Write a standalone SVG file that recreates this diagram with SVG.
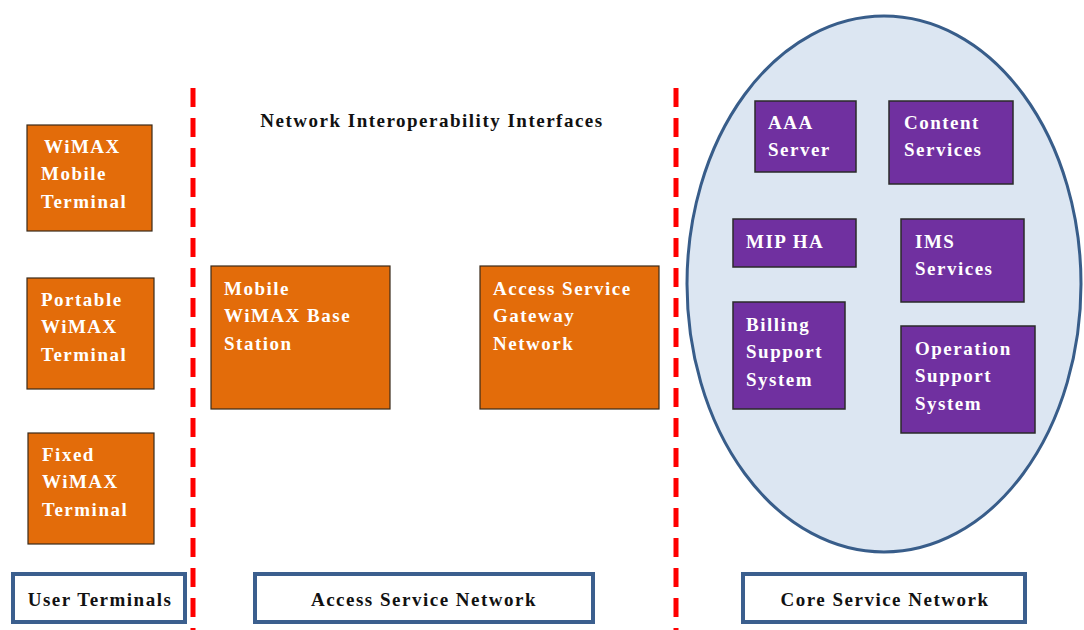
<svg xmlns="http://www.w3.org/2000/svg" width="1084" height="630" viewBox="0 0 1084 630">
<style>
.org{fill:#e36c0a;stroke:#3a2a1a;stroke-width:1.2}
.pur{fill:#7030a0;stroke:#2a2a2a;stroke-width:1.5}
.lbl{fill:#fff;stroke:#3b5f8e;stroke-width:4}
.wt{font-family:"Liberation Serif",serif;font-weight:bold;font-size:19px;letter-spacing:1.5px;fill:#fff}
.bt{font-family:"Liberation Serif",serif;font-weight:bold;font-size:19px;letter-spacing:1.5px;fill:#111}
.dash{stroke:#ff0000;stroke-width:5;stroke-dasharray:19 11;fill:none}
</style>
<rect width="1084" height="630" fill="#fff"/>
<g id="dividers">
<line class="dash" x1="193" y1="88" x2="193" y2="630"/>
<line class="dash" x1="676" y1="88" x2="676" y2="630"/>
</g>
<g id="core-ellipse">
<ellipse cx="884" cy="284" rx="197" ry="268" fill="#dce6f2" stroke="#385d8a" stroke-width="3"/>
</g>
<g id="title">
<text class="bt" x="432" y="127" text-anchor="middle">Network Interoperability Interfaces</text>
</g>
<g id="n-mobile-terminal">
<rect class="org" x="27" y="125" width="125" height="106"/>
<text class="wt" x="44" y="153">WiMAX</text>
<text class="wt" x="41" y="180">Mobile</text>
<text class="wt" x="41" y="208">Terminal</text>
</g>
<g id="n-portable-terminal">
<rect class="org" x="27" y="278" width="127" height="111"/>
<text class="wt" x="41" y="306">Portable</text>
<text class="wt" x="41" y="333">WiMAX</text>
<text class="wt" x="41" y="361">Terminal</text>
</g>
<g id="n-fixed-terminal">
<rect class="org" x="28" y="433" width="126" height="111"/>
<text class="wt" x="42" y="461">Fixed</text>
<text class="wt" x="42" y="488">WiMAX</text>
<text class="wt" x="42" y="516">Terminal</text>
</g>
<g id="n-base-station">
<rect class="org" x="211" y="266" width="179" height="143"/>
<text class="wt" x="224" y="295">Mobile</text>
<text class="wt" x="224" y="322">WiMAX  Base</text>
<text class="wt" x="224" y="350">Station</text>
</g>
<g id="n-asn-gateway">
<rect class="org" x="480" y="266" width="179" height="143"/>
<text class="wt" x="493" y="295">Access Service</text>
<text class="wt" x="493" y="322">Gateway</text>
<text class="wt" x="493" y="350">Network</text>
</g>
<g id="n-aaa">
<rect class="pur" x="755" y="101" width="101" height="71"/>
<text class="wt" x="768" y="129">AAA</text>
<text class="wt" x="768" y="156">Server</text>
</g>
<g id="n-content">
<rect class="pur" x="889" y="101" width="124" height="83"/>
<text class="wt" x="904" y="129">Content</text>
<text class="wt" x="904" y="156">Services</text>
</g>
<g id="n-mip">
<rect class="pur" x="733" y="219" width="123" height="48"/>
<text class="wt" x="746" y="248">MIP  HA</text>
</g>
<g id="n-ims">
<rect class="pur" x="901" y="219" width="123" height="83"/>
<text class="wt" x="915" y="248">IMS</text>
<text class="wt" x="915" y="275">Services</text>
</g>
<g id="n-billing">
<rect class="pur" x="733" y="302" width="112" height="107"/>
<text class="wt" x="746" y="331">Billing</text>
<text class="wt" x="746" y="358">Support</text>
<text class="wt" x="746" y="386">System</text>
</g>
<g id="n-operation">
<rect class="pur" x="901" y="326" width="134" height="107"/>
<text class="wt" x="915" y="355">Operation</text>
<text class="wt" x="915" y="382">Support</text>
<text class="wt" x="915" y="410">System</text>
</g>
<g id="l-user">
<rect class="lbl" x="13" y="574" width="172" height="48"/>
<text class="bt" x="100" y="606" text-anchor="middle">User Terminals</text>
</g>
<g id="l-asn">
<rect class="lbl" x="255" y="574" width="338" height="48"/>
<text class="bt" x="424" y="606" text-anchor="middle">Access Service Network</text>
</g>
<g id="l-csn">
<rect class="lbl" x="743" y="574" width="282" height="48"/>
<text class="bt" x="885" y="606" text-anchor="middle">Core Service Network</text>
</g>
</svg>
